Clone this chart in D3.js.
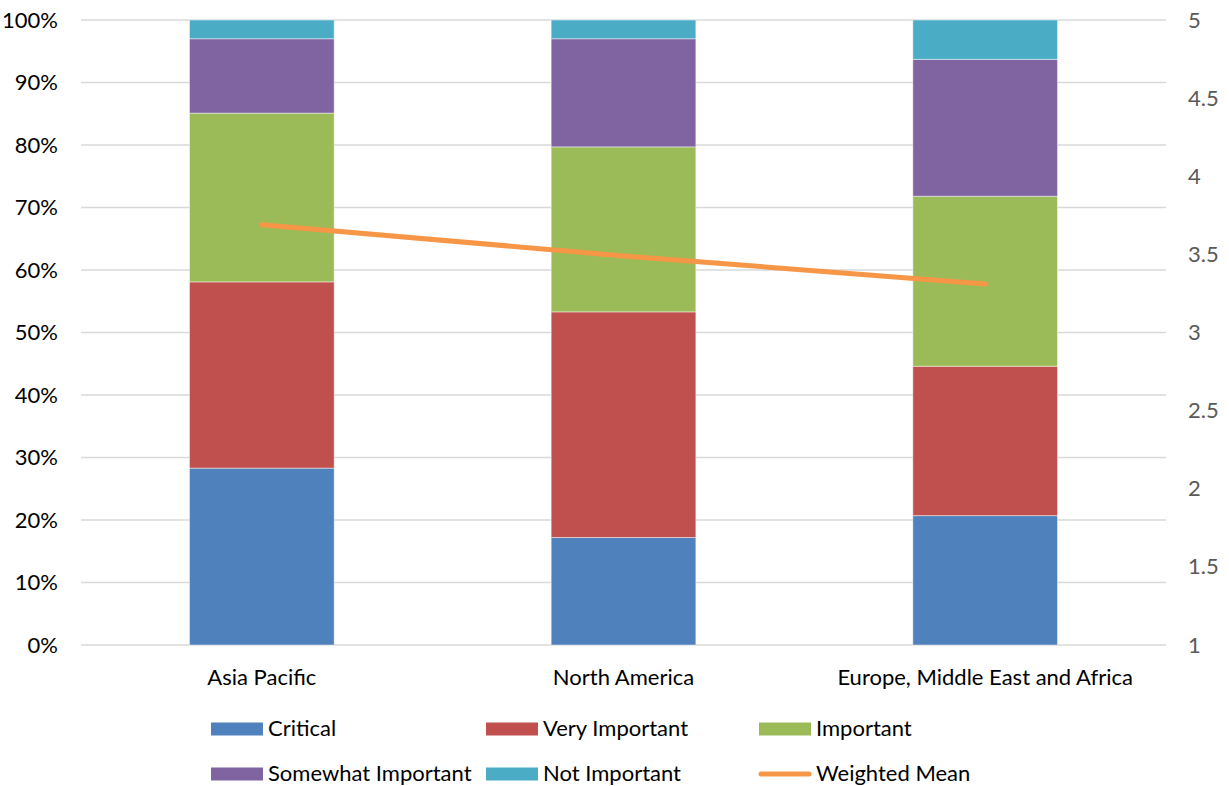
<!DOCTYPE html>
<html>
<head>
<meta charset="utf-8">
<script src="https://cdn.jsdelivr.net/npm/d3@7/dist/d3.min.js"></script>
<style>
  html, body { margin: 0; padding: 0; background: #fff; }
  svg text { font-family: Lato, "Noto Sans", sans-serif; }
</style>
</head>
<body>
<svg id="chart" width="1229" height="786"></svg>
<script>
// Regions on the category axis
const regions = ["Asia Pacific", "North America", "Europe, Middle East and Africa"];

// Share of responses per importance level (fractions of 1), one value per region
const critical          = [0.283, 0.172, 0.207];
const veryImportant     = [0.298, 0.361, 0.239];
const important         = [0.270, 0.264, 0.272];
const somewhatImportant = [0.119, 0.173, 0.219];
const notImportant      = [0.030, 0.030, 0.063];

// Weighted mean score (1 = not important ... 5 = critical)
const weightedMean = [3.69, 3.49, 3.31];

const seriesNames  = ["Critical", "Very Important", "Important", "Somewhat Important", "Not Important"];
const seriesValues = [critical, veryImportant, important, somewhatImportant, notImportant];
const seriesColors = ["#4F81BD", "#C0504D", "#9BBB59", "#8064A2", "#4BACC6"];
const lineColor = "#F79646";

const leftTicks  = [0, 0.1, 0.2, 0.3, 0.4, 0.5, 0.6, 0.7, 0.8, 0.9, 1.0];
const rightTicks = [1, 1.5, 2, 2.5, 3, 3.5, 4, 4.5, 5];

const svg = d3.select("#chart");
const plot = { left: 81, right: 1166, top: 20, bottom: 645 };
const fontSize = 22;

const x = d3.scaleBand()
  .domain(regions)
  .range([plot.left, plot.right])
  .paddingInner(0.6)
  .paddingOuter(0.3);

const y = d3.scaleLinear().domain([0, 1]).range([plot.bottom, plot.top]);
const y2 = d3.scaleLinear().domain([1, 5]).range([plot.bottom, plot.top]);

// Horizontal gridlines
svg.append("g")
  .selectAll("line")
  .data(leftTicks)
  .join("line")
  .attr("x1", plot.left)
  .attr("x2", plot.right)
  .attr("y1", d => y(d))
  .attr("y2", d => y(d))
  .attr("stroke", "#D9D9D9")
  .attr("stroke-width", 1.4);

// Left axis (percent)
const leftAxis = svg.append("g")
  .attr("transform", `translate(${plot.left},0)`)
  .call(d3.axisLeft(y).tickValues(leftTicks).tickFormat(d3.format(".0%")).tickSize(0).tickPadding(23));
leftAxis.select(".domain").remove();
leftAxis.selectAll("text")
  .attr("font-size", fontSize)
  .attr("fill", "#000")
  .style("font-family", "Lato, sans-serif");

// Right axis (weighted mean)
const rightAxis = svg.append("g")
  .attr("transform", `translate(${plot.right},0)`)
  .call(d3.axisRight(y2).tickValues(rightTicks).tickFormat(d3.format("~g")).tickSize(0).tickPadding(22));
rightAxis.select(".domain").remove();
rightAxis.selectAll("text")
  .attr("font-size", fontSize)
  .attr("fill", "#595959")
  .style("font-family", "Lato, sans-serif");

// Stacked bars
const rows = regions.map((r, i) => {
  const o = { region: r };
  seriesNames.forEach((s, k) => { o[s] = seriesValues[k][i]; });
  return o;
});
const stacked = d3.stack().keys(seriesNames)(rows);

svg.append("g")
  .selectAll("g")
  .data(stacked)
  .join("g")
  .attr("fill", (d, i) => seriesColors[i])
  .selectAll("rect")
  .data(d => d)
  .join("rect")
  .attr("x", d => x(d.data.region))
  .attr("width", x.bandwidth())
  .attr("y", d => y(d[1]))
  .attr("height", d => y(d[0]) - y(d[1]))
  .attr("stroke", "#ffffff")
  .attr("stroke-opacity", 0.45)
  .attr("stroke-width", 1);

// Weighted mean line
const line = d3.line()
  .x((d, i) => x(regions[i]) + x.bandwidth() / 2)
  .y(d => y2(d));

svg.append("path")
  .datum(weightedMean)
  .attr("d", line)
  .attr("fill", "none")
  .attr("stroke", lineColor)
  .attr("stroke-width", 5)
  .attr("stroke-linecap", "round");

// Category labels
svg.append("g")
  .selectAll("text")
  .data(regions)
  .join("text")
  .attr("x", d => x(d) + x.bandwidth() / 2)
  .attr("y", 685)
  .attr("text-anchor", "middle")
  .attr("font-size", fontSize)
  .attr("fill", "#000")
  .text(d => d);

// Legend
const legendItems = [
  { name: "Critical", color: seriesColors[0], type: "box", col: 0, row: 0 },
  { name: "Very Important", color: seriesColors[1], type: "box", col: 1, row: 0 },
  { name: "Important", color: seriesColors[2], type: "box", col: 2, row: 0 },
  { name: "Somewhat Important", color: seriesColors[3], type: "box", col: 0, row: 1 },
  { name: "Not Important", color: seriesColors[4], type: "box", col: 1, row: 1 },
  { name: "Weighted Mean", color: lineColor, type: "line", col: 2, row: 1 }
];
const colX = [211, 486, 759];
const rowY = [729, 774];

const lg = svg.append("g")
  .selectAll("g")
  .data(legendItems)
  .join("g")
  .attr("transform", d => `translate(${colX[d.col]},${rowY[d.row]})`);

lg.filter(d => d.type === "box")
  .append("rect")
  .attr("x", 0)
  .attr("y", -6.5)
  .attr("width", 52)
  .attr("height", 13)
  .attr("fill", d => d.color);

lg.filter(d => d.type === "line")
  .append("line")
  .attr("x1", 2)
  .attr("x2", 50)
  .attr("y1", 0)
  .attr("y2", 0)
  .attr("stroke", d => d.color)
  .attr("stroke-width", 5)
  .attr("stroke-linecap", "round");

lg.append("text")
  .attr("x", 57)
  .attr("y", 0)
  .attr("dy", "0.3em")
  .attr("font-size", fontSize)
  .attr("fill", "#000")
  .text(d => d.name);
</script>
</body>
</html>
